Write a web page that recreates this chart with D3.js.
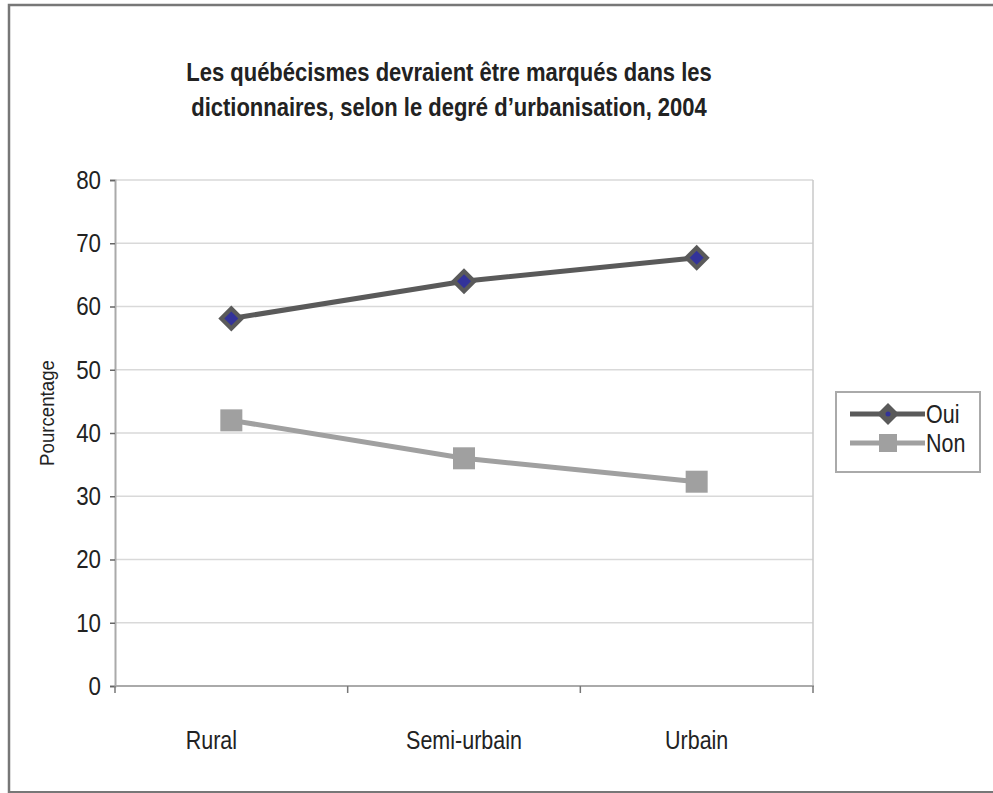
<!DOCTYPE html>
<meta charset="utf-8">
<style>
body { margin: 0; background: #fff; }
text { font-family: "Liberation Sans", Arial, sans-serif; fill: #222; }
.grid line { stroke: #d9d9d9; stroke-width: 1.5; }
</style>
<body>
<script src="https://d3js.org/d3.v7.min.js"></script>
<svg width="993" height="793"></svg>
<script>

var categories = ["Rural", "Semi-urbain", "Urbain"];
var oui = [58.1, 64.0, 67.7];
var non = [42.0, 36.0, 32.3];
var yTicks = [0, 10, 20, 30, 40, 50, 60, 70, 80];
var seriesNames = ["Oui", "Non"];

// the original uses a narrow face; squeeze Liberation Sans horizontally
var sx = 0.86;

var svg = d3.select("svg");

// outer frame
svg.append("path")
    .attr("d", "M9,793 V5 H993")
    .attr("fill", "none")
    .attr("stroke", "#777")
    .attr("stroke-width", 2.5);
svg.append("line")
    .attr("x1", 9).attr("x2", 993).attr("y1", 792).attr("y2", 792)
    .attr("stroke", "#777").attr("stroke-width", 2);

var title = svg.append("text")
    .attr("transform", "translate(449,81) scale(0.88,1)")
    .attr("text-anchor", "middle")
    .attr("font-weight", "bold")
    .attr("font-size", "25px");
title.append("tspan").attr("x", 0).attr("y", 0)
    .text("Les québécismes devraient être marqués dans les");
title.append("tspan").attr("x", 0).attr("y", 35)
    .text("dictionnaires, selon le degré d’urbanisation, 2004");

var x = d3.scaleBand()
    .domain(categories)
    .range([115, 813]);

var y = d3.scaleLinear()
    .domain([0, 80])
    .range([686, 180]);

// gridlines
svg.append("g")
    .attr("class", "grid")
    .selectAll("line")
    .data(yTicks.slice(1))
    .enter().append("line")
      .attr("x1", 115).attr("x2", 813)
      .attr("y1", function(d) { return y(d); })
      .attr("y2", function(d) { return y(d); });

// right border of plot
svg.append("line")
    .attr("x1", 813).attr("x2", 813).attr("y1", 180).attr("y2", 686)
    .attr("stroke", "#c8c8c8").attr("stroke-width", 1.5);

// y axis
var yAxis = svg.append("g")
    .attr("transform", "translate(115,0)")
    .call(d3.axisLeft(y).tickValues(yTicks).tickSize(5).tickPadding(9));
yAxis.select(".domain").attr("stroke", "#aaa").attr("stroke-width", 2);
yAxis.selectAll(".tick line").attr("stroke", "#666").attr("stroke-width", 1.5);
yAxis.selectAll(".tick text")
    .attr("font-size", "26px").attr("fill", "#222")
    .attr("x", -14 / sx)
    .attr("transform", "scale(" + sx + ",1)")
    .style("font-family", "'Liberation Sans', Arial, sans-serif");

// x axis
var xAxis = svg.append("g")
    .attr("transform", "translate(0,686)")
    .call(d3.axisBottom(x).tickSize(0).tickPadding(45));
xAxis.select(".domain").remove();
xAxis.selectAll(".tick text")
    .attr("font-size", "25px").attr("fill", "#222")
    .attr("x", function(d, i) { return i === 0 ? -20 / sx : 0; })
    .attr("transform", "scale(" + sx + ",1)")
    .style("font-family", "'Liberation Sans', Arial, sans-serif");
svg.append("line")
    .attr("x1", 114).attr("x2", 814).attr("y1", 686).attr("y2", 686)
    .attr("stroke", "#aaa").attr("stroke-width", 2);
var xEdges = [0, 1, 2, 3].map(function(i) { return x.range()[0] + i * x.bandwidth(); });
svg.append("g").selectAll("line")
    .data(xEdges)
    .enter().append("line")
      .attr("x1", function(d) { return d; })
      .attr("x2", function(d) { return d; })
      .attr("y1", 686).attr("y2", 693)
      .attr("stroke", "#777").attr("stroke-width", 1.5);

svg.append("text")
    .attr("transform", "translate(54,413) rotate(-90) scale(0.89,1)")
    .attr("text-anchor", "middle")
    .attr("font-size", "21px")
    .text("Pourcentage");

var cx = function(d, i) { return x(categories[i]) + x.bandwidth() / 2; };

var line = d3.line()
    .x(function(d, i) { return cx(d, i); })
    .y(function(d) { return y(d); });

// Non series
svg.append("path")
    .datum(non)
    .attr("d", line)
    .attr("fill", "none")
    .attr("stroke", "#a0a0a0")
    .attr("stroke-width", 5);
svg.append("g").selectAll("rect")
    .data(non)
    .enter().append("rect")
      .attr("x", function(d, i) { return cx(d, i) - 11; })
      .attr("y", function(d) { return y(d) - 11; })
      .attr("width", 22).attr("height", 22)
      .attr("fill", "#a0a0a0");

// Oui series
svg.append("path")
    .datum(oui)
    .attr("d", line)
    .attr("fill", "none")
    .attr("stroke", "#5a5a5a")
    .attr("stroke-width", 5);
var ouiPts = svg.append("g").selectAll("g")
    .data(oui)
    .enter().append("g")
      .attr("transform", function(d, i) { return "translate(" + cx(d, i) + "," + y(d) + ")"; });
ouiPts.append("path")
    .attr("d", "M0,-13 L13,0 L0,13 L-13,0 Z")
    .attr("fill", "#5a5a5a");
ouiPts.append("path")
    .attr("d", "M0,-7 L7,0 L0,7 L-7,0 Z")
    .attr("fill", "#33339a");

// legend
var legend = svg.append("g");
legend.append("rect")
    .attr("x", 836).attr("y", 392).attr("width", 144).attr("height", 80)
    .attr("fill", "#fff").attr("stroke", "#aaa").attr("stroke-width", 2);
var ly = [414, 443];
seriesNames.forEach(function(name, i) {
  var col = i === 0 ? "#5a5a5a" : "#a0a0a0";
  legend.append("line")
      .attr("x1", 850).attr("x2", 925).attr("y1", ly[i]).attr("y2", ly[i])
      .attr("stroke", col).attr("stroke-width", 5);
  if (i === 0) {
    legend.append("path")
        .attr("transform", "translate(888," + ly[i] + ")")
        .attr("d", "M0,-11 L11,0 L0,11 L-11,0 Z")
        .attr("fill", col);
    legend.append("circle")
        .attr("cx", 888).attr("cy", ly[i]).attr("r", 2.5)
        .attr("fill", "#33339a");
  } else {
    legend.append("rect")
        .attr("x", 879).attr("y", ly[i] - 9).attr("width", 18).attr("height", 18)
        .attr("fill", col);
  }
  legend.append("text")
      .attr("transform", "translate(926," + (ly[i] + 9) + ") scale(" + sx + ",1)")
      .attr("font-size", "25px")
      .text(name);
});

</script>
</body>
